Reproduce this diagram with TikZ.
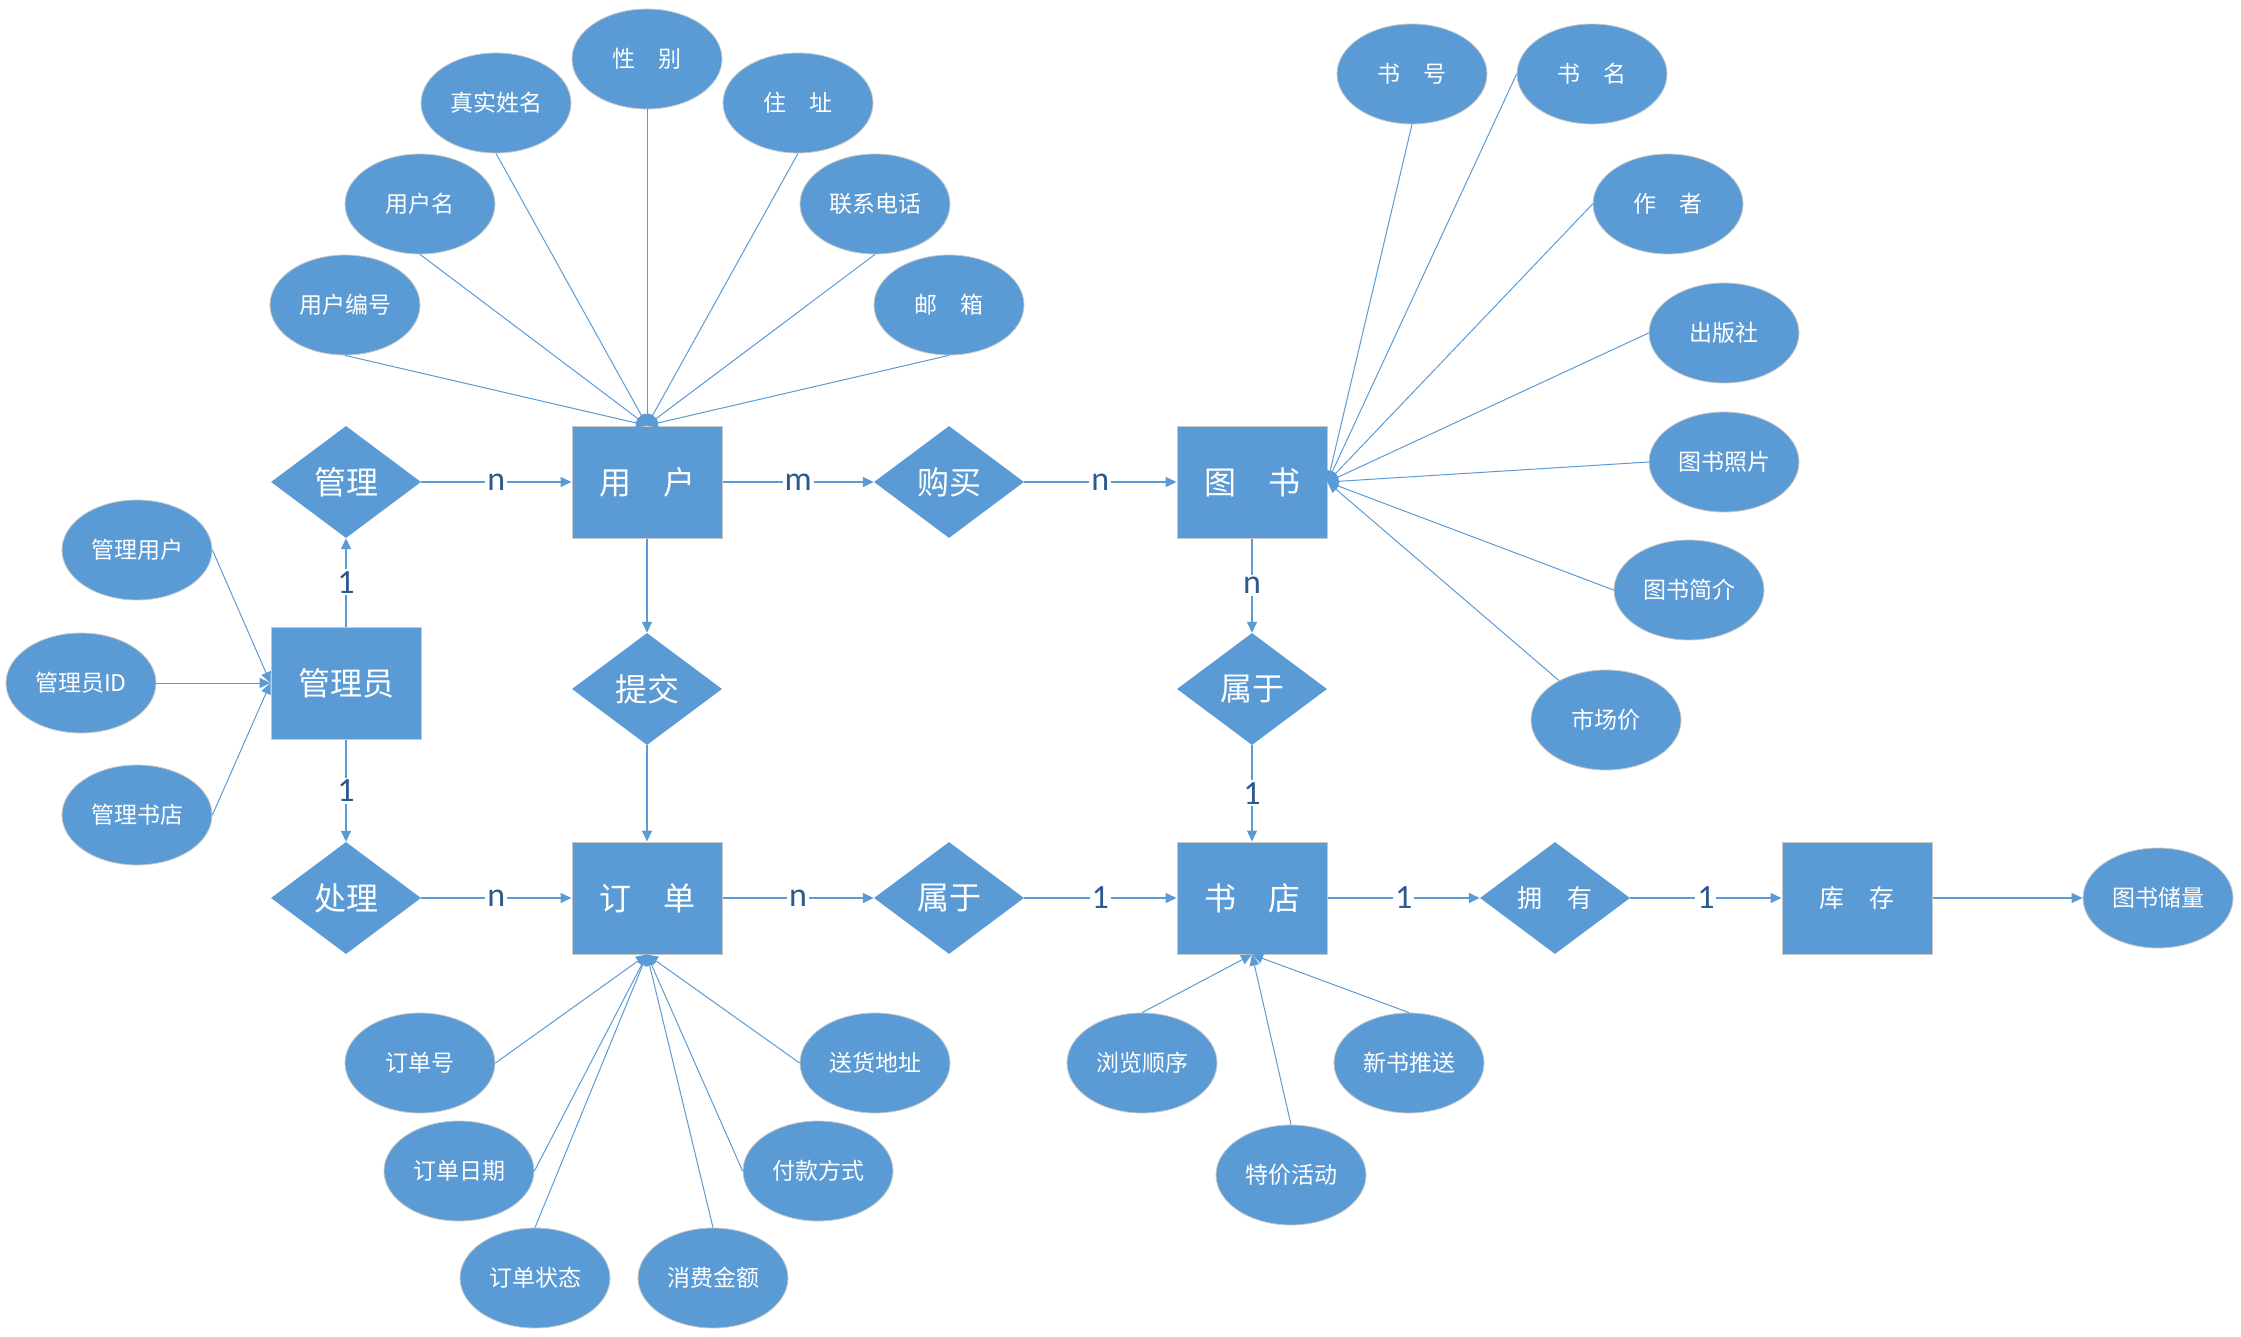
\documentclass[tikz,border=0pt]{standalone}
\usepackage{fontspec}
\setmainfont{Noto Sans CJK SC}
\newfontfamily\lblfont{Carlito}
\usetikzlibrary{shapes.geometric,arrows.meta}
\definecolor{erblue}{HTML}{5B9BD5}
\definecolor{lblblue}{HTML}{2B5A8C}
\definecolor{edgegray}{HTML}{C8C8C8}
\begin{document}
\begin{tikzpicture}[x=1pt,y=-1pt,
        entity/.style={rectangle,fill=erblue,draw=edgegray,line width=1pt,minimum width=150pt,minimum height=112pt,text=white,font=\fontsize{32}{38}\selectfont},
        relation/.style={diamond,fill=erblue,draw=none,minimum width=150pt,minimum height=112pt,inner sep=0pt,text=white,font=\fontsize{32}{38}\selectfont},
        attrib/.style={ellipse,fill=erblue,draw=edgegray,line width=0.8pt,minimum width=150pt,minimum height=100pt,text=white,font=\fontsize{23}{27}\selectfont},
        link/.style={draw=erblue,line width=1.5pt,-{Triangle[length=11pt,width=10pt]}},
        attline/.style={draw=erblue,line width=1pt,-{Triangle[length=11pt,width=10pt]}},
        card/.style={fill=white,text=lblblue,inner sep=2pt,font=\lblfont\fontsize{34}{40}\selectfont}]
    \useasboundingbox (0,0) rectangle (2241,1337);

    % entities
    \node[entity] (user)  at (647,482)  {用\hspace{1em}户};
    \node[entity] (book)  at (1252,482) {图\hspace{1em}书};
    \node[entity] (admin) at (346,683)  {管理员};
    \node[entity] (order) at (647,898)  {订\hspace{1em}单};
    \node[entity] (store) at (1252,898) {书\hspace{1em}店};
    \node[entity,font=\fontsize{25}{30}\selectfont] (stock) at (1857,898) {库\hspace{1em}存};

    % relations
    \node[relation] (manage)      at (346,482)  {管理};
    \node[relation] (buy)         at (949,482)  {购买};
    \node[relation] (submit)      at (647,689)  {提交};
    \node[relation] (belongbook)  at (1252,689) {属于};
    \node[relation] (handle)      at (346,898)  {处理};
    \node[relation] (belongorder) at (949,898)  {属于};
    \node[relation,font=\fontsize{25}{30}\selectfont] (own) at (1555,898) {拥\hspace{1em}有};

    % attributes
    \node[attrib] (uid)      at (345,305)  {用户编号};
    \node[attrib] (uname)    at (420,204)  {用户名};
    \node[attrib] (realname) at (496,103)  {真实姓名};
    \node[attrib] (gender)   at (647,59)   {性\hspace{1em}别};
    \node[attrib] (addr)     at (798,103)  {住\hspace{1em}址};
    \node[attrib] (phone)    at (875,204)  {联系电话};
    \node[attrib] (mail)     at (949,305)  {邮\hspace{1em}箱};

    \node[attrib] (bno)    at (1412,74)  {书\hspace{1em}号};
    \node[attrib] (bname)  at (1592,74)  {书\hspace{1em}名};
    \node[attrib] (author) at (1668,204) {作\hspace{1em}者};
    \node[attrib] (press)  at (1724,333) {出版社};
    \node[attrib] (photo)  at (1724,462) {图书照片};
    \node[attrib] (intro)  at (1689,590) {图书简介};
    \node[attrib] (price)  at (1606,720) {市场价};

    \node[attrib] (mguser)  at (137,550) {管理用户};
    \node[attrib] (adminid) at (81,683)  {管理员ID};
    \node[attrib] (mgstore) at (137,815) {管理书店};

    \node[attrib] (ono)    at (420,1063) {订单号};
    \node[attrib] (odate)  at (459,1171) {订单日期};
    \node[attrib] (ostate) at (535,1278) {订单状态};
    \node[attrib] (amount) at (713,1278) {消费金额};
    \node[attrib] (pay)    at (818,1171) {付款方式};
    \node[attrib] (ship)   at (875,1063) {送货地址};

    \node[attrib] (browse)  at (1142,1063) {浏览顺序};
    \node[attrib] (sale)    at (1291,1175) {特价活动};
    \node[attrib] (newbook) at (1409,1063) {新书推送};

    \node[attrib] (reserve) at (2158,898) {图书储量};

    % attribute lines
    \foreach \a in {uid,uname,realname,gender,addr,phone,mail}
        \draw[attline] (\a.south) -- (user.north);
    \foreach \a/\s in {bno/south,bname/west,author/west,press/west,photo/west,intro/west,price/140}
        \draw[attline] (\a.\s) -- (book.east);
    \foreach \a in {mguser,adminid,mgstore}
        \draw[attline] (\a.east) -- (admin.west);
    \foreach \a/\s in {ono/east,odate/east,ostate/north,amount/north,pay/west,ship/west}
        \draw[attline] (\a.\s) -- (order.south);
    \foreach \a in {browse,sale,newbook}
        \draw[attline] (\a.north) -- (store.south);

    % relation lines
    \draw[link] (manage) -- node[card] {n} (user);
    \draw[link] (admin) -- node[card] {1} (manage);
    \draw[link] (admin) -- node[card] {1} (handle);
    \draw[link] (handle) -- node[card] {n} (order);
    \draw[link] (user) -- node[card] {m} (buy);
    \draw[link] (buy) -- node[card] {n} (book);
    \draw[link] (user) -- (submit);
    \draw[link] (submit) -- (order);
    \draw[link] (book) -- node[card] {n} (belongbook);
    \draw[link] (belongbook) -- node[card] {1} (store);
    \draw[link] (order) -- node[card] {n} (belongorder);
    \draw[link] (belongorder) -- node[card] {1} (store);
    \draw[link] (store) -- node[card] {1} (own);
    \draw[link] (own) -- node[card] {1} (stock);
    \draw[link] (stock) -- (reserve);
\end{tikzpicture}
\end{document}
